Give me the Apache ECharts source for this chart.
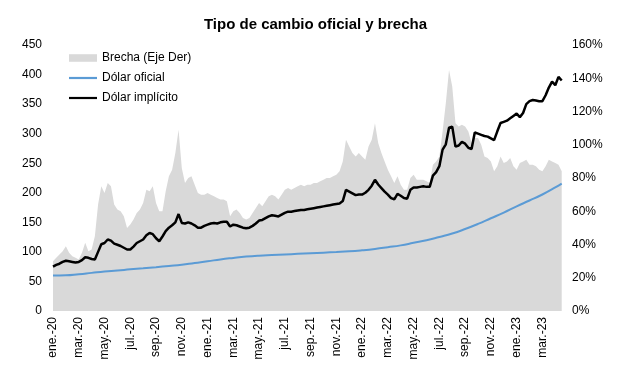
<!DOCTYPE html>
<html>
<head>
<meta charset="utf-8">
<script src="https://cdn.jsdelivr.net/npm/echarts@6/dist/echarts.min.js"></script>
<style>html,body{margin:0;padding:0;background:#fff}#c{width:631px;height:384px}</style>
</head>
<body>
<div id="c"></div>
<script>
// Weekly samples (step = 1/4 month) starting at ene.-20
const STEP = 0.25;
const brecha = [
  30,32,34,36,39,35,33,32,31,35,
  41,36,37,45,64,75,71,77,75,64,
  61,60,57,50,52,55,59,61,65,73,
  72,75,65,60,60,72,81,85,95,109,
  86,77,80,81,76,71,70,70,71,70,
  69,68,67,67,66,57,60,61,59,56,
  55,56,59,62,65,63,66,69,70,69,
  67,70,73,74,73,74,75,76,75,76,
  76,77,77,78,79,80,80,81,82,84,
  90,103,99,95,93,95,93,91,99,103,
  113,101,95,90,85,81,77,81,76,73,
  73,80,82,79,79,79,78,77,88,90,
  93,108,125,145,135,113,111,112,111,108,
  101,104,104,100,93,92,90,84,87,93,
  89,90,92,87,85,89,90,91,88,88,
  87,85,84,87,91,90,89,88,84
];
const implicito = [
  75,78,80,83,85,84,83,82,83,86,
  91,90,88,87,100,113,115,121,119,114,
  112,110,107,104,104,109,115,118,121,128,
  132,130,123,118,126,135,141,145,150,164,
  149,148,150,148,145,141,141,144,146,148,
  149,148,150,151,151,143,146,145,143,141,
  140,141,144,148,153,154,157,160,162,161,
  160,163,166,168,168,169,170,171,171,172,
  173,174,175,176,177,178,179,180,181,182,
  186,205,202,199,196,197,197,200,205,212,
  222,214,208,202,197,191,189,198,195,191,
  190,205,209,209,210,211,210,210,229,235,
  245,273,282,310,312,278,280,286,283,276,
  274,302,300,298,296,295,292,289,304,318,
  320,322,326,330,334,328,335,350,355,357,
  356,355,355,365,378,388,382,396,390
];
// Official rate at the start of each month (months since ene.-20), plus last value
const oficialMeses = [...Array(40).keys(), 39.5];
const oficial = [
  59.9,60.3,62.2,64.5,66.8,68.5,70.5,72.3,74.2,76.2,78.3,81.3,
  84.1,87.3,89.8,92.0,93.6,94.7,95.7,96.7,97.7,98.7,99.7,100.9,
  102.7,105.0,107.9,111.0,115.3,119.6,125.2,131.1,138.7,147.3,156.9,166.5,
  177.1,186.9,197.1,209.0,215.5
];
const meses = ['ene.','feb.','mar.','abr.','may.','jun.','jul.','ago.','sep.','oct.','nov.','dic.'];
const leftTicks = [0,50,100,150,200,250,300,350,400,450];
const rightTicks = [0,20,40,60,80,100,120,140,160];

const FONT = 'Liberation Sans, Arial, sans-serif';
const RECT_ICON = 'path://M0,0 L26,0 L26,7 L0,7 Z';
const LINE_ICON = 'path://M0,0 L28,0 L28,2.2 L0,2.2 Z';
const chart = echarts.init(document.getElementById('c'), null, {renderer:'canvas'});
chart.setOption({
  animation:false,
  textStyle:{fontFamily:FONT},
  title:{text:'Tipo de cambio oficial y brecha',left:'center',top:12,
    textStyle:{fontFamily:FONT,fontSize:15,fontWeight:'bold',color:'#000'}},
  legend:{orient:'vertical',left:64,top:47,itemGap:8,itemWidth:28,itemHeight:12,
    textStyle:{fontFamily:FONT,fontSize:12,color:'#000'},
    data:[{name:'Brecha (Eje Der)',icon:RECT_ICON,itemStyle:{color:'#d9d9d9'}},
          {name:'Dólar oficial',icon:LINE_ICON,itemStyle:{color:'#5b9bd5'}},
          {name:'Dólar implícito',icon:LINE_ICON,itemStyle:{color:'#000'}}]},
  grid:{left:53,right:68,top:45,bottom:73},
  xAxis:{type:'value',min:0,max:39.6,interval:2,
    axisLine:{show:false},axisTick:{show:false},splitLine:{show:false},
    axisLabel:{rotate:90,fontFamily:FONT,fontSize:12,color:'#000',margin:6,showMaxLabel:false,
      formatter:v=>{ if(Math.abs(v-Math.round(v))>1e-6) return ''; const m=Math.round(v); return meses[m%12]+'-'+(20+Math.floor(m/12)); }}},
  yAxis:[
    {type:'value',min:leftTicks[0],max:leftTicks[leftTicks.length-1],interval:50,
     axisLine:{show:false},axisTick:{show:false},splitLine:{show:false},
     axisLabel:{fontFamily:FONT,fontSize:12,color:'#000',margin:11}},
    {type:'value',min:rightTicks[0],max:rightTicks[rightTicks.length-1],interval:20,
     axisLine:{show:false},axisTick:{show:false},splitLine:{show:false},
     axisLabel:{fontFamily:FONT,fontSize:12,color:'#000',margin:9,formatter:'{value}%'}}
  ],
  series:[
    {name:'Brecha (Eje Der)',type:'line',yAxisIndex:1,symbol:'none',
     lineStyle:{width:0},itemStyle:{color:'#d9d9d9'},areaStyle:{color:'#d9d9d9',opacity:1},
     data:brecha.map((v,k)=>[k*STEP,v]),z:1},
    {name:'Dólar oficial',type:'line',yAxisIndex:0,symbol:'none',smooth:true,
     lineStyle:{width:2,color:'#5b9bd5'},itemStyle:{color:'#5b9bd5'},
     data:oficial.map((v,k)=>[oficialMeses[k],v]),z:3},
    {name:'Dólar implícito',type:'line',yAxisIndex:0,symbol:'none',
     lineStyle:{width:2.5,color:'#000'},itemStyle:{color:'#000'},
     data:implicito.map((v,k)=>[k*STEP,v]),z:4}
  ]
});
</script>
</body>
</html>
